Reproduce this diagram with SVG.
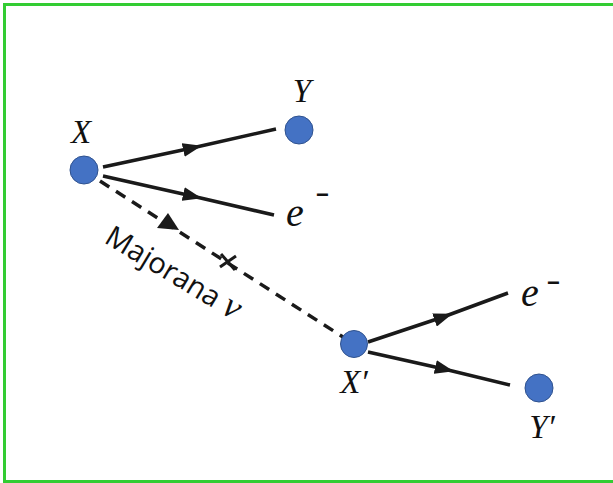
<svg xmlns="http://www.w3.org/2000/svg" width="613" height="483" viewBox="0 0 613 483">
<defs>
<style>
.node{fill:#4472c4;stroke:#2f528f;stroke-width:1}
.lbl{font-family:"Liberation Serif",serif;font-style:italic;font-size:33px;fill:#111}
.el{font-family:"Liberation Serif",serif;font-style:italic;font-size:40px;fill:#111}
.sup{font-family:"Liberation Sans",sans-serif;font-style:normal;font-weight:bold;font-size:22px;fill:#111}
.ln{fill:none;stroke:#1a1a1a;stroke-width:3.5}
.dash{fill:none;stroke:#1a1a1a;stroke-width:3.5;stroke-dasharray:11 8}
.maj{font-family:"Open Sans",sans-serif;font-size:29px;fill:#111}
</style>
<marker id="arr" viewBox="0 0 19 14" refX="9" refY="7" markerWidth="19" markerHeight="14" markerUnits="userSpaceOnUse" orient="auto">
<path d="M0,0 L19,7 L0,14 Z" fill="#1a1a1a"/>
</marker>
</defs>
<rect width="613" height="483" fill="#fff"/>
<path d="M613,4.5 H4.5 V481.5 H613" fill="none" stroke="#33cc33" stroke-width="3"/>
<g id="connectors">
<path class="ln" d="M103,167 L192,148 L276,129" marker-mid="url(#arr)"/>
<path class="ln" d="M103,176 L192,196 L274,215" marker-mid="url(#arr)"/>
<path class="dash" d="M100,181 L343,337"/>
<path d="M168,213 L157,228 L179,230 Z" fill="#1a1a1a"/>
<path d="M221,254 L235,270 M220,267 L236,256" stroke="#1a1a1a" stroke-width="3" fill="none"/>
<path class="ln" d="M368,342 L443,317 L508,293" marker-mid="url(#arr)"/>
<path class="ln" d="M368,352 L444,369 L510,385" marker-mid="url(#arr)"/>
<text class="maj" transform="translate(103,242) rotate(31)">Majorana <tspan font-family="Liberation Serif, serif" font-style="italic" font-size="36">ν</tspan></text>
</g>
<g id="nodeX">
<circle class="node" cx="84" cy="170" r="14"/>
<text class="lbl" x="81" y="143" text-anchor="middle">X</text>
</g>
<g id="nodeY">
<circle class="node" cx="299" cy="130" r="14"/>
<text class="lbl" x="302" y="102" text-anchor="middle">Y</text>
</g>
<g id="labelE1">
<text class="el" x="286" y="226">e<tspan class="sup" x="316" y="202">−</tspan></text>
</g>
<g id="nodeX2">
<circle class="node" cx="354" cy="344" r="13.5"/>
<text class="lbl" x="354" y="393" text-anchor="middle">X′</text>
</g>
<g id="labelE2">
<text class="el" x="521" y="306">e<tspan class="sup" x="547" y="290">−</tspan></text>
</g>
<g id="nodeY2">
<circle class="node" cx="539" cy="388" r="14"/>
<text class="lbl" x="542" y="438" text-anchor="middle">Y′</text>
</g>
</svg>
